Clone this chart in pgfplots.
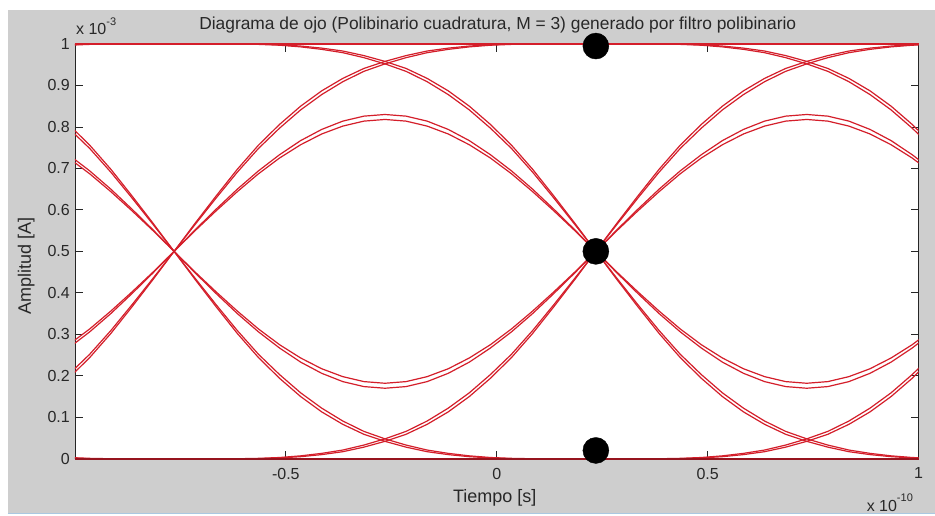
\documentclass[border=0pt]{standalone}
\usepackage{pgfplots}
\pgfplotsset{compat=1.18}
\usepackage{pgfplotstable}
\usepackage{fontspec}
\setmainfont{Liberation Sans}

\definecolor{eyered}{RGB}{212,30,42}
\definecolor{darkred}{RGB}{150,20,30}
\definecolor{figgray}{RGB}{206,206,206}
\definecolor{txt}{RGB}{40,40,40}
\definecolor{edgeblue}{RGB}{170,200,225}
\newcommand{\lab}{\fontsize{16}{19}\selectfont}
\newcommand{\axl}{\fontsize{18}{21}\selectfont}
\newcommand{\ttl}{\fontsize{17.4}{20}\selectfont}

% one symbol period, t = time after the 0.5 crossing
% p1/p2: inner eye arcs, g1/g2: transition 0.5 -> 1
\pgfplotstableread{
t    p1    p2    g1    g2
0.00 0.500 0.500 0.500 0.500
0.05 0.552 0.550 0.568 0.565
0.10 0.602 0.598 0.634 0.629
0.15 0.650 0.644 0.698 0.691
0.20 0.694 0.687 0.756 0.748
0.25 0.733 0.725 0.806 0.797
0.30 0.767 0.757 0.850 0.841
0.35 0.794 0.783 0.887 0.878
0.40 0.814 0.802 0.917 0.909
0.45 0.826 0.814 0.941 0.934
0.50 0.830 0.818 0.958 0.952
0.55 0.826 0.814 0.972 0.967
0.60 0.814 0.802 0.983 0.979
0.65 0.794 0.783 0.990 0.987
0.70 0.767 0.757 0.995 0.993
0.75 0.733 0.725 0.998 0.997
0.80 0.694 0.687 1.000 0.999
0.85 0.650 0.644 1.000 1.000
0.90 0.602 0.598 1.000 1.000
0.95 0.552 0.550 1.000 1.000
1.00 0.500 0.500 1.000 1.000
}\eye

\tikzset{eye/.style={draw=eyered, line width=1.2pt, line join=round, no markers}}

\begin{document}
\begin{tikzpicture}
\fill[white] (0pt,0pt) rectangle (935pt,516pt);
\fill[figgray] (8pt,3pt) rectangle (935pt,506pt);
\draw[edgeblue, line width=1pt] (8pt,2.5pt) -- (935pt,2.5pt);

\begin{axis}[
    at={(75pt,57pt)}, anchor=south west,
    scale only axis, width=844pt, height=415pt,
    xmin=-1, xmax=1, ymin=0, ymax=1,
    axis background/.style={fill=white},
    xtick={-0.5,0,0.5,1}, xticklabels={-0.5,0,0.5,1},
    ytick={0,0.1,0.2,0.3,0.4,0.5,0.6,0.7,0.8,0.9,1},
    yticklabels={0,0.1,0.2,0.3,0.4,0.5,0.6,0.7,0.8,0.9,1},
    tick align=inside, major tick length=8pt,
    axis line style={line width=0.8pt, black!85},
    tick style={line width=0.8pt, black!85},
    ticklabel style={font=\lab, text=txt, inner sep=0pt},
    x tick label style={yshift=-9pt},
    y tick label style={xshift=-5pt},
]
\pgfplotsinvokeforeach{-1.765,-0.765,0.235}{
  \addplot[eye] table[x expr=#1+\thisrow{t}, y=p1] {\eye};
  \addplot[eye] table[x expr=#1+\thisrow{t}, y=p2] {\eye};
  \addplot[eye] table[x expr=#1+\thisrow{t}, y expr=1-\thisrow{p1}] {\eye};
  \addplot[eye] table[x expr=#1+\thisrow{t}, y expr=1-\thisrow{p2}] {\eye};
  \addplot[eye] table[x expr=#1+\thisrow{t}, y=g1] {\eye};
  \addplot[eye] table[x expr=#1+\thisrow{t}, y=g2] {\eye};
  \addplot[eye] table[x expr=#1+1-\thisrow{t}, y=g1] {\eye};
  \addplot[eye] table[x expr=#1+1-\thisrow{t}, y=g2] {\eye};
  \addplot[eye] table[x expr=#1+\thisrow{t}, y expr=1-\thisrow{g1}] {\eye};
  \addplot[eye] table[x expr=#1+\thisrow{t}, y expr=1-\thisrow{g2}] {\eye};
  \addplot[eye] table[x expr=#1+1-\thisrow{t}, y expr=1-\thisrow{g1}] {\eye};
  \addplot[eye] table[x expr=#1+1-\thisrow{t}, y expr=1-\thisrow{g2}] {\eye};
}
\end{axis}

\begin{axis}[
    at={(75pt,57pt)}, anchor=south west,
    scale only axis, width=844pt, height=415pt,
    xmin=-1, xmax=1, ymin=0, ymax=1,
    hide axis, clip=false,
]
\addplot[draw=eyered, line width=1.5pt, no markers] coordinates {(-1,1) (1,1)};
\addplot[draw=darkred, line width=1.7pt, no markers] coordinates {(-1,0) (1,0)};
\addplot[only marks, mark=*, mark size=13pt, black] coordinates {(0.235,0.995) (0.235,0.5) (0.235,0.02)};
\end{axis}

\node[anchor=base, font=\ttl, text=txt] at (498pt,486pt)
  {Diagrama de ojo (Polibinario cuadratura, M = 3) generado por filtro polibinario};
\node[anchor=base west, font=\lab, text=txt, inner sep=0pt] at (76pt,481pt)
  {x 10\raisebox{0.6em}{\fontsize{11}{12}\selectfont -3}};
\node[anchor=base, font=\axl, text=txt] at (495pt,13pt) {Tiempo [s]};
\node[anchor=base, rotate=90, font=\axl, text=txt] at (31pt,250pt) {Amplitud [A]};
\node[anchor=base west, font=\lab, text=txt, inner sep=0pt] at (867pt,4.5pt)
  {x 10\raisebox{0.6em}{\fontsize{11}{12}\selectfont -10}};
\end{tikzpicture}
\end{document}
